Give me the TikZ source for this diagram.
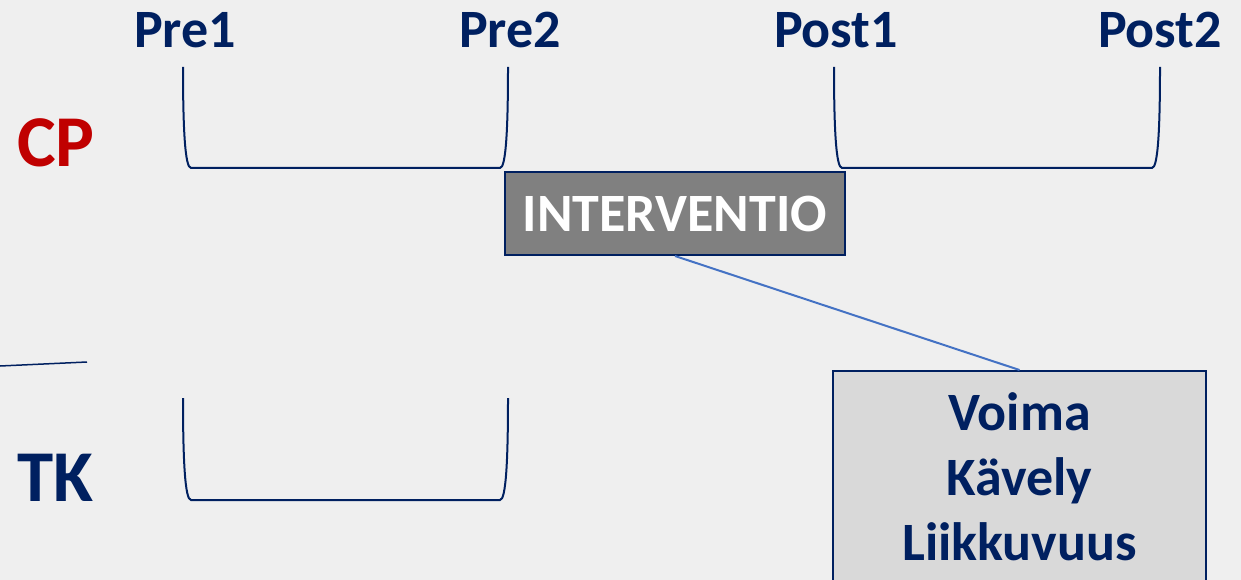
\documentclass[tikz,border=0pt]{standalone}
\usepackage{fontspec}
\setmainfont{Carlito}
\usetikzlibrary{positioning}

\definecolor{tummasin}{RGB}{0,32,96}
\definecolor{punainen}{RGB}{192,0,0}
\definecolor{tausta}{RGB}{239,239,239}
\definecolor{viivasin}{RGB}{68,114,196}

\tikzset{
  aika/.style={text=tummasin, font=\fontsize{54}{65}\selectfont\bfseries, inner sep=0pt},
  ryhma/.style={font=\fontsize{73}{80}\selectfont\bfseries, inner sep=0pt, anchor=base west},
  sulku/.style={draw=tummasin, line width=2pt},
  interv/.style={draw=tummasin, line width=2pt, fill=gray, text=white,
    font=\fontsize{54}{65}\selectfont\bfseries, minimum width=340pt, minimum height=83pt, inner sep=0pt},
  testilaatikko/.style={draw=tummasin, line width=2pt, fill=black!15, minimum width=373pt, minimum height=240pt, anchor=north}
}

\begin{document}
\begin{tikzpicture}[x=1pt,y=-1pt]

% Background
\fill[tausta] (0,0) rectangle (1241,580);
\useasboundingbox (0,0) rectangle (1241,580);
\clip (0,0) rectangle (1241,580);

% Time points
\node[aika, anchor=base] (pre1) at (185,48) {Pre1};
\node[aika, anchor=base] (pre2) at (510,48) {Pre2};
\node[aika, anchor=base] (post1) at (836,48) {Post1};
\node[aika, anchor=base] (post2) at (1160,48) {Post2};

% Groups
\node[ryhma, text=punainen] (cp) at (17,167) {CP};
\node[ryhma, text=tummasin] (tk) at (17,501) {TK};

% Brackets
\foreach \a/\b/\yt/\yb in {183/508/67/168, 834/1160/67/168, 183/508/398/500}
  \draw[sulku] (\a,\yt) .. controls (\a,\yb-40) and (\a+2,\yb) .. (\a+8,\yb)
    -- (\b-8,\yb) .. controls (\b-2,\yb) and (\b,\yb-40) .. (\b,\yt);

% Separator stub
\draw[tummasin, line width=1.5pt] (0,366) -- (87,362);

% Intervention and tests
\node[interv] (interventio) at (675,213.5) {INTERVENTIO};
\node[testilaatikko] (testit) at (1019.5,370) {};
\node[aika, align=center, below=22pt of testit.north] (testitxt) {Voima\\Kävely\\Liikkuvuus};

\draw[viivasin, line width=2pt] (interventio.south) -- (testit.north);

\end{tikzpicture}
\end{document}
